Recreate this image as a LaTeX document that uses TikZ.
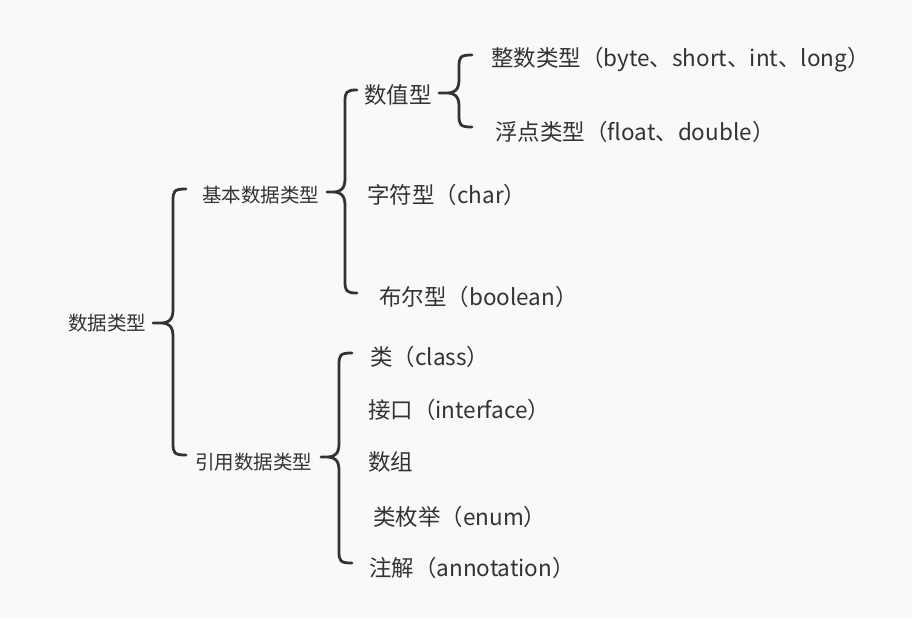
\documentclass[tikz,border=0pt]{standalone}
\usepackage{fontspec}
\setmainfont{Noto Sans CJK SC}
\definecolor{bgc}{HTML}{F9F9F9}
\definecolor{ink}{HTML}{333333}
\tikzset{
  bracestyle/.style={draw=ink, line width=2.8pt, line cap=round, line join=round},
  biglabel/.style={anchor=west, inner sep=0pt, text=ink, font=\fontsize{22.5pt}{26pt}\selectfont},
  smalllabel/.style={anchor=west, inner sep=0pt, text=ink, font=\fontsize{19.5pt}{23pt}\selectfont},
}
% name, xtip, xvert, xend, ytop, ytip, ybot
\newcommand\mybrace[7]{%
  \coordinate (#1-top) at (#4,#5);
  \coordinate (#1-tip) at (#2,#6);
  \coordinate (#1-bot) at (#4,#7);
  \draw[bracestyle] (#1-top) .. controls (#3+1,#5) and (#3,#5+2) .. (#3,#5+12)
    -- (#3,#6-13) .. controls (#3,#6-3) and (#3-5,#6) .. (#3-11,#6)
    -- (#1-tip) -- (#3-11,#6)
    .. controls (#3-5,#6) and (#3,#6+3) .. (#3,#6+13)
    -- (#3,#7-12) .. controls (#3,#7-2) and (#3+1,#7) .. (#1-bot);
}
\begin{document}
\begin{tikzpicture}[x=1pt,y=-1pt]
\fill[bgc] (0,0) rectangle (912,618);
\useasboundingbox (0,0) rectangle (912,618);
% labels
\node[smalllabel] (root) at (68,323) {数据类型};
\node[smalllabel] (basic) at (202,195) {基本数据类型};
\node[smalllabel] (ref) at (195,462) {引用数据类型};
\node[biglabel] (num) at (364,95) {数值型};
\node[biglabel] (chr) at (367,195) {字符型（char）};
\node[biglabel] (bool) at (379,297) {布尔型（boolean）};
\node[biglabel] (int) at (491,60) {整数类型（byte、short、int、long）};
\node[biglabel] (flt) at (495,132) {浮点类型（float、double）};
\node[biglabel] (cls) at (370,357) {类（class）};
\node[biglabel] (itf) at (368,410) {接口（interface）};
\node[biglabel] (arr) at (368,462) {数组};
\node[biglabel] (enm) at (373,517) {类枚举（enum）};
\node[biglabel] (ann) at (369,568) {注解（annotation）};
% braces
\mybrace{b0}{153}{173}{186}{189}{323}{455}
\mybrace{b1}{327}{345}{357}{90}{192}{293}
\mybrace{b2}{439}{459}{472}{55}{93}{127}
\mybrace{b3}{321}{339}{352}{353}{457}{563}
\end{tikzpicture}
\end{document}
